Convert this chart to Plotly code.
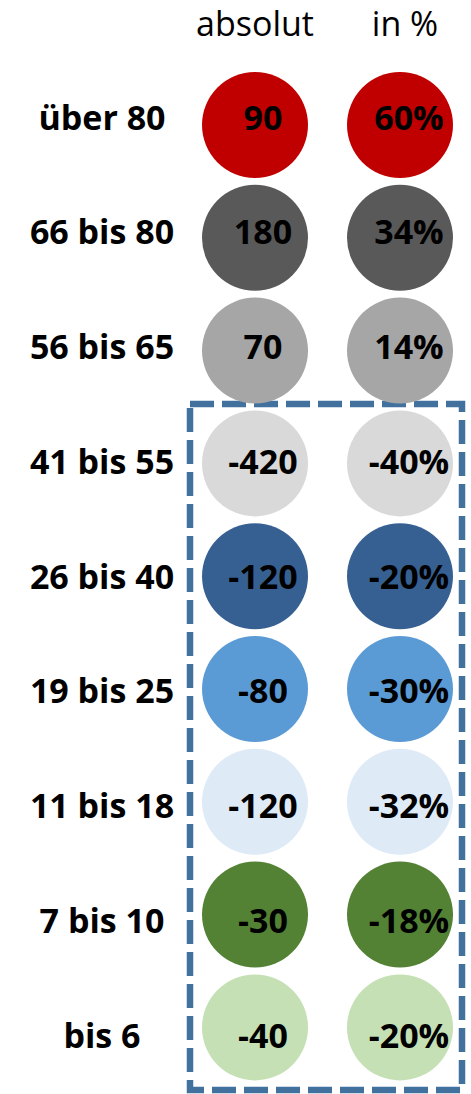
import plotly.graph_objects as go

# Age groups and their changes
categories = ["über 80", "66 bis 80", "56 bis 65", "41 bis 55", "26 bis 40",
              "19 bis 25", "11 bis 18", "7 bis 10", "bis 6"]
absolut = [90, 180, 70, -420, -120, -80, -120, -30, -40]
prozent = [60, 34, 14, -40, -20, -30, -32, -18, -20]
colors = ["#C00000", "#595959", "#A6A6A6", "#D9D9D9", "#376092",
          "#5B9BD5", "#DEEBF7", "#548235", "#C5E0B4"]
headers = ["absolut", "in %"]

W, H = 471, 1094
n = len(categories)

# layout geometry (pixel space)
col_x = [255, 400]          # circle centres
txt_x = [263, 409]          # value text centres
label_x = 102
circle_y0, circle_dy = 125, 112.8
text_y0, text_dy = 121, 114.75
circle_d = 106

cy = [circle_y0 + i * circle_dy for i in range(n)]
ty = [text_y0 + i * text_dy for i in range(n)]

FONT = "Open Sans"
bold = dict(family=FONT, size=34, color="black", weight="bold")

fig = go.Figure()

for c in range(2):
    fig.add_trace(go.Scatter(
        x=[col_x[c]] * n, y=cy, mode="markers",
        marker=dict(size=circle_d, color=colors, line=dict(width=0)),
        hoverinfo="skip", showlegend=False))

fig.add_trace(go.Scatter(
    x=[txt_x[0]] * n, y=ty, mode="text",
    text=[str(v) for v in absolut], textfont=bold,
    hoverinfo="skip", showlegend=False))

fig.add_trace(go.Scatter(
    x=[txt_x[1]] * n, y=ty, mode="text",
    text=[f"{v}%" for v in prozent], textfont=bold,
    hoverinfo="skip", showlegend=False))

fig.add_trace(go.Scatter(
    x=[label_x] * n, y=ty, mode="text",
    text=categories, textfont=bold,
    hoverinfo="skip", showlegend=False))

fig.add_trace(go.Scatter(
    x=[255, 405], y=[27, 27], mode="text",
    text=headers,
    textfont=dict(family=FONT, size=34, color="black"),
    hoverinfo="skip", showlegend=False))

# dashed frame around the younger groups
fig.add_shape(type="rect", x0=190, x1=462, y0=404, y1=1090,
              line=dict(color="#41719C", width=6.5, dash="24px,8px"),
              layer="below")

fig.update_layout(
    width=W, height=H,
    margin=dict(l=0, r=0, t=0, b=0),
    paper_bgcolor="white", plot_bgcolor="white",
    xaxis=dict(range=[0, W], visible=False, fixedrange=True),
    yaxis=dict(range=[H, 0], visible=False, fixedrange=True),
)

fig.write_html("out.html")
